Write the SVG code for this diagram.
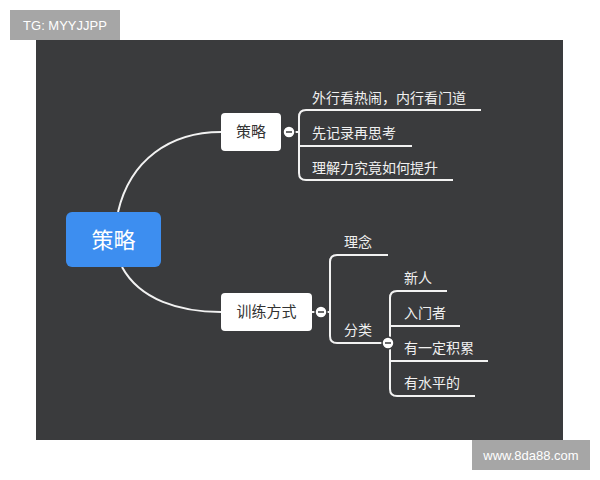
<svg xmlns="http://www.w3.org/2000/svg" width="600" height="480" viewBox="0 0 600 480">
<style>
text{font-family:"Noto Sans CJK SC","Liberation Sans",sans-serif}
.l{fill:none;stroke:#f2f2f2;stroke-width:2}
.t{fill:#f0f0f0;font-size:14px}
.n{fill:#fff}
.nt{fill:#333;font-size:15px;text-anchor:middle}
.c{fill:#fff;stroke:#3a3b3d;stroke-width:1.5}
</style>
<rect width="600" height="480" fill="#fff"/>
<rect x="36" y="40" width="527" height="400" fill="#3a3b3d"/>
<g id="badge1"><rect x="10" y="10" width="110" height="30" fill="#a6a6a6"/><text x="65" y="30" fill="#fff" font-size="13" text-anchor="middle" style="font-family:'Liberation Sans',sans-serif">TG: MYYJJPP</text></g>
<g id="badge2"><rect x="472" y="440" width="118" height="30" fill="#a6a6a6"/><text x="531" y="460" fill="#fff" font-size="13" text-anchor="middle" style="font-family:'Liberation Sans',sans-serif">www.8da88.com</text></g>
<g id="connectors">
<path class="l" d="M118 212 C130 160 170 132 221 132"/>
<path class="l" d="M122 267 C140 300 180 312 221 312"/>
<path class="l" d="M289 132 H299"/>
<path class="l" d="M481 110 H306 Q299 110 299 117 V173 Q299 180 306 180 H453"/>
<path class="l" d="M299 146 H412"/>
<path class="l" d="M312 312 H330"/>
<path class="l" d="M388 255 H337 Q330 255 330 262 V336 Q330 343 337 343 H388"/>
<path class="l" d="M447 291 H397 Q390 291 390 298 V389 Q390 396 397 396 H475"/>
<path class="l" d="M390 326 H460"/>
<path class="l" d="M390 361 H488"/>
</g>
<g id="root"><rect x="66" y="212" width="95" height="55" rx="6" fill="#3d8ef0"/><text x="113.500" y="248" fill="#fff" font-size="22" text-anchor="middle">策略</text></g>
<g id="strategy"><rect class="n" x="221" y="113" width="60" height="38" rx="4"/><text class="nt" x="251" y="137">策略</text><circle class="c" cx="289" cy="132" r="6"/><path d="M286 132h6" stroke="#3a3b3d" stroke-width="1.5"/></g>
<g id="training"><rect class="n" x="221" y="293" width="91" height="38" rx="4"/><text class="nt" x="266.500" y="317">训练方式</text><circle class="c" cx="321" cy="312" r="6"/><path d="M318 312h6" stroke="#3a3b3d" stroke-width="1.5"/></g>
<g id="s1"><text class="t" x="312" y="103">外行看热闹，内行看门道</text></g>
<g id="s2"><text class="t" x="312" y="138">先记录再思考</text></g>
<g id="s3"><text class="t" x="312" y="173">理解力究竟如何提升</text></g>
<g id="t1"><text class="t" x="344" y="247">理念</text></g>
<g id="t2"><text class="t" x="344" y="335">分类</text><circle class="c" cx="388" cy="343" r="6"/><path d="M385 343h6" stroke="#3a3b3d" stroke-width="1.5"/></g>
<g id="c1"><text class="t" x="404" y="283">新人</text></g>
<g id="c2"><text class="t" x="404" y="318">入门者</text></g>
<g id="c3"><text class="t" x="404" y="353">有一定积累</text></g>
<g id="c4"><text class="t" x="404" y="388">有水平的</text></g>
</svg>
